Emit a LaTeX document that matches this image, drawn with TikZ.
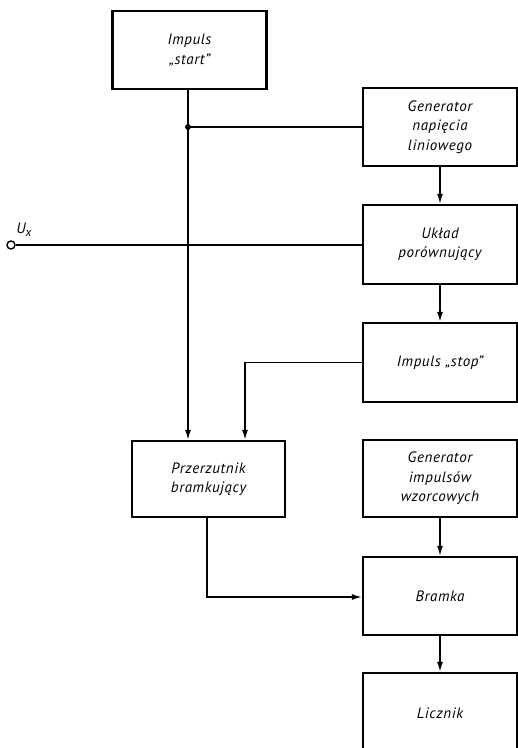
\documentclass[tikz,border=0pt]{standalone}
\usepackage{fontspec}
\setmainfont{PT Sans}[LetterSpace=4]
\usetikzlibrary{arrows.meta}
\begin{document}
\begin{tikzpicture}[x=1pt,y=-1pt,
  blk/.style={draw, line width=2.2pt, minimum width=154pt, minimum height=78pt, inner sep=0pt, align=center, font=\fontsize{15}{19.5}\selectfont\itshape},
  wire/.style={line width=1.5pt},
  arr/.style={wire, -{Latex[length=10pt,width=6pt]}},
  lbl/.style={font=\fontsize{15}{19}\selectfont\itshape, inner sep=0pt}]
\useasboundingbox (0,0) rectangle (518,748);
\node[blk] (start) at (189.5,50) {Impuls\\„start”};
\node[blk] (gen) at (440,127) {Generator\\napięcia\\liniowego};
\node[blk, minimum height=79pt] (uklad) at (440,244.5) {Układ\\porównujący};
\node[blk, minimum height=79pt] (stop) at (440,362.5) {Impuls „stop”};
\node[blk, minimum width=153pt, minimum height=76pt] (prz) at (208.5,479) {Przerzutnik\\bramkujący};
\node[blk, minimum height=77pt] (gimp) at (440,478.5) {Generator\\impulsów\\wzorcowych};
\node[blk] (bramka) at (440,596) {Bramka};
\node[blk, minimum height=80pt] (licz) at (440,713) {Licznik};
\node[circle, draw, line width=1.4pt, minimum size=8pt, inner sep=0pt] (ux) at (11,245) {};
\node[lbl] (uxl) at (24,230) {U\raisebox{-0.35ex}{\fontsize{12}{14}\selectfont x}};
\coordinate (j) at (188,127);
\coordinate (c1) at (245,362.5);
\coordinate (c2) at (207,597);
\draw[wire] (start.south -| j) -- (j);
\draw[arr] (j) -- (j |- prz.north);
\draw[wire] (j) -- (gen.west);
\fill (j) circle (3pt);
\draw[wire] (ux.east) -- (ux -| uklad.west);
\draw[arr] (gen.south) -- (uklad.north);
\draw[arr] (uklad.south) -- (stop.north);
\draw[arr] (stop.west) -- (c1) -- (c1 |- prz.north);
\draw[arr] (c2 |- prz.south) -- (c2) -- (c2 -| bramka.west);
\draw[arr] (gimp.south) -- (bramka.north);
\draw[arr] (bramka.south) -- (licz.north);
\end{tikzpicture}
\end{document}
